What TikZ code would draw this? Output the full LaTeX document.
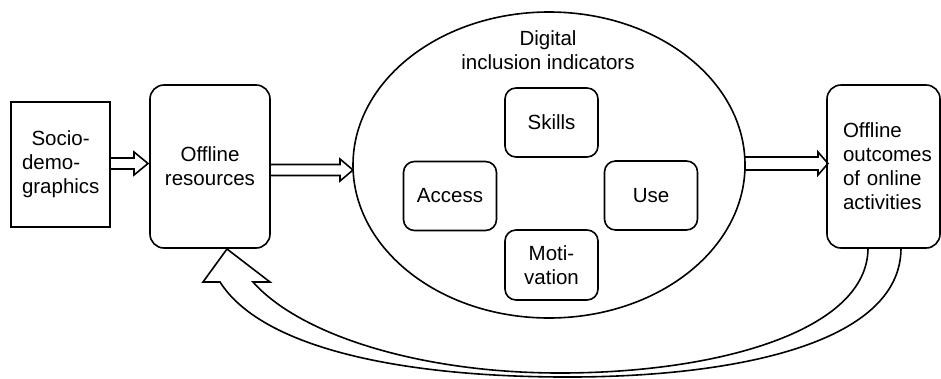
\documentclass[tikz,border=0pt]{standalone}
\usepackage{fontspec}
\setmainfont{Liberation Sans}
\usetikzlibrary{shapes.geometric,calc}
\newcommand{\hollowarrow}[5]{%
  \draw[arrowline] ($(#1)+(0,-#3)$) -- ($(#2)+(-#5,-#3)$) -- ($(#2)+(-#5,-#4)$) -- (#2)
    -- ($(#2)+(-#5,#4)$) -- ($(#2)+(-#5,#3)$) -- ($(#1)+(0,#3)$);}
\begin{document}
\begin{tikzpicture}[x=1pt,y=-1pt,
  every node/.style={font=\fontsize{20.5}{24}\selectfont, outer sep=0pt, inner sep=0pt},
  box/.style={draw, line width=1.6pt, align=center},
  rbox/.style={box, rounded corners=14pt},
  sbox/.style={box, rounded corners=11pt, minimum width=93pt, minimum height=69pt},
  arrowline/.style={draw, line width=1.6pt, line join=miter}]
\useasboundingbox (0,0) rectangle (941,378);

\node[box, minimum width=99pt, minimum height=125pt, text width=77pt, align=left]
  (soc) at (60.5,164.5) {\hspace*{9.5pt}Socio-\\demo-\\graphics};
\node[rbox, minimum width=120pt, minimum height=163pt] (res) at (210,166.5) {Offline\\resources};
\node[draw, line width=1.6pt, ellipse, minimum width=392pt, minimum height=306pt] (ell) at (549,165) {};
\node[align=center] (title) at (548,50) {Digital\\inclusion indicators};
\node[sbox] (skills) at (551.5,122.5) {Skills};
\node[sbox] (access) at (450,196) {Access};
\node[sbox] (use) at (651,195.5) {Use};
\node[sbox, minimum height=70pt] (motiv) at (551.5,265) {Moti-\\vation};
\node[rbox, minimum width=113pt, minimum height=163pt, text width=81pt, inner xsep=16pt, align=left]
  (out) at (883.5,166.5) {Offline\\outcomes\\of online\\activities};

% straight hollow arrows
\coordinate (s1) at ($(soc.east)+(0,-1)$);
\coordinate (t1) at ($(res.west |- s1)+(-2,0)$);
\hollowarrow{s1}{t1}{5.5}{11.5}{14}
\coordinate (s2) at ($(res.east)+(0,3.5)$);
\coordinate (t2) at (ell.west |- s2);
\hollowarrow{s2}{t2}{5.5}{11}{13}
\coordinate (s3) at ($(ell.east)+(0,-1.5)$);
\coordinate (t3) at ($(out.west |- s3)+(1,0)$);
\hollowarrow{s3}{t3}{6.5}{11.5}{10}

% feedback arrow
\coordinate (A1) at ($(out.south)+(-15.5,0)$);
\coordinate (A2) at ($(out.south)+(17.5,0)$);
\coordinate (T) at ($(res.south)+(17,1)$);
\coordinate (HL) at ($(T)+(-24,33)$);
\coordinate (HR) at ($(T)+(43,33)$);
\coordinate (IL) at ($(T)+(-7,33)$);
\coordinate (IR) at ($(T)+(26,33)$);
\coordinate (B1) at (560,373);
\coordinate (B2) at (560,377);
\draw[arrowline] (A1) .. controls (868,330) and (720,373) .. (B1)
  .. controls (420,373) and (300,335) .. (IR) -- (HR) -- (T) -- (HL) -- (IL)
  .. controls (260,345) and (390,376) .. (B2)
  .. controls (730,378) and (901,345) .. (A2);
\end{tikzpicture}
\end{document}
